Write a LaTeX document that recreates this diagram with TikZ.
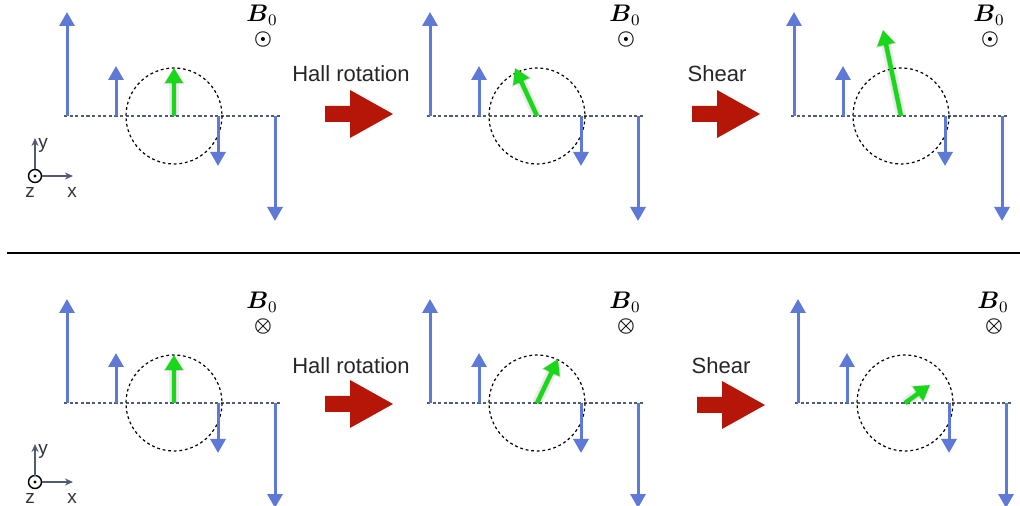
\documentclass[tikz,border=0pt]{standalone}
\usepackage{amsmath,amssymb}
\usepackage{fontspec}
\setsansfont{Liberation Sans}
\usepackage{tikz}
\usetikzlibrary{arrows.meta}
\definecolor{fieldblue}{RGB}{94, 122, 214}
\definecolor{spingreen}{RGB}{25, 215, 25}
\definecolor{pushred}{RGB}{182, 22, 8}
\definecolor{axisgray}{RGB}{80, 92, 118}

\tikzset{
  field/.style={fieldblue, line width=1.5pt, -{Triangle[length=7pt, width=7.5pt]}},
  spin/.style={spingreen, line width=2.2pt, -{Triangle[length=7.5pt, width=8.5pt]}},
  spinshadow/.style={black, opacity=0.07, line width=#1, -{Triangle[length=8pt, width=10pt]}},
  midline/.style={axisgray, line width=0.6pt, dash pattern=on 1.6pt off 1.2pt},
  orbit/.style={black, line width=0.6pt, dash pattern=on 1.4pt off 1.4pt},
  steplabel/.style={font=\sffamily\fontsize{11}{13}\selectfont, text=black!85},
  axislabel/.style={font=\sffamily\fontsize{9.5}{11}\selectfont, text=black!80, inner sep=0pt},
  axisarrow/.style={axisgray, line width=0.6pt, -{Stealth[length=4pt, width=3.5pt]}}
}

% one panel: x0, y0, green tip (relative to centre), field symbol
\newcommand{\hallpanel}[4]{%
  \begin{scope}[shift={(#1,#2)}]
    \draw[midline] (-3,0) -- (215,0);
    \draw[field] (0,0) -- (0,-104);
    \draw[field] (49,0) -- (49,-50);
    \draw[orbit] (107,0) circle (48);
    \draw[field] (151,0) -- (151,50);
    \draw[field] (208,0) -- (208,105);
    \coordinate (c) at (107,0);
    \draw[spinshadow=5pt, shift={(4,3)}] (c) -- ++(#3);
    \draw[spinshadow=3pt, shift={(3,2)}] (c) -- ++(#3);
    \draw[spin] (c) -- ++(#3);
    \node[font=\large, inner sep=0pt] at (195,-101) {$\boldsymbol{B}_0$};
    \node[inner sep=0pt] at (196,-76) {$\boldsymbol{#4}$};
  \end{scope}}

% block arrow between panels
\newcommand{\pusharrow}[2]{%
  \fill[pushred, shift={(#1,#2)}] (0,-8) -- (25,-8) -- (25,-24) -- (68,0)
    -- (25,24) -- (25,8) -- (0,8) -- cycle;}

% coordinate triad
\newcommand{\triad}[2]{%
  \begin{scope}[shift={(#1,#2)}]
    \coordinate (o) at (0,0);
    \draw[black, line width=0.7pt] (o) circle (6.5);
    \fill[black] (o) circle (1.7);
    \draw[axisarrow] (0,-6.5) -- (0,-38);
    \draw[axisarrow] (6.5,0) -- (38,0);
    \node[axislabel, anchor=west] at (3,-31) {y};
    \node[axislabel] at (-5,16) {z};
    \node[axislabel] at (37,16) {x};
  \end{scope}}

\begin{document}
\begin{tikzpicture}[x=0.5pt, y=-0.5pt]
  \useasboundingbox (0,0) rectangle (1020,506);

  % Top row: field out of page
  \hallpanel{67}{116}{0,-48}{\odot}
  \hallpanel{430}{116}{-22,-48}{\odot}
  \hallpanel{794}{116}{-18,-86}{\odot}
  \triad{35}{176}

  \node[steplabel] (hallTop) at (351,74) {Hall rotation};
  \pusharrow{325}{114}
  \node[steplabel] (shearTop) at (717,74) {Shear};
  \pusharrow{692}{114}

  % Separator
  \draw[black, line width=0.6pt] (7,253) -- (1020,253);

  % Bottom row: field into page
  \hallpanel{67}{403}{0,-48}{\otimes}
  \hallpanel{430}{403}{21,-44}{\otimes}
  \hallpanel{798}{403}{25,-18}{\otimes}
  \triad{35}{482}

  \node[steplabel] (hallBot) at (351,366) {Hall rotation};
  \pusharrow{325}{404}
  \node[steplabel] (shearBot) at (721,366) {Shear};
  \pusharrow{697}{405}
\end{tikzpicture}
\end{document}
